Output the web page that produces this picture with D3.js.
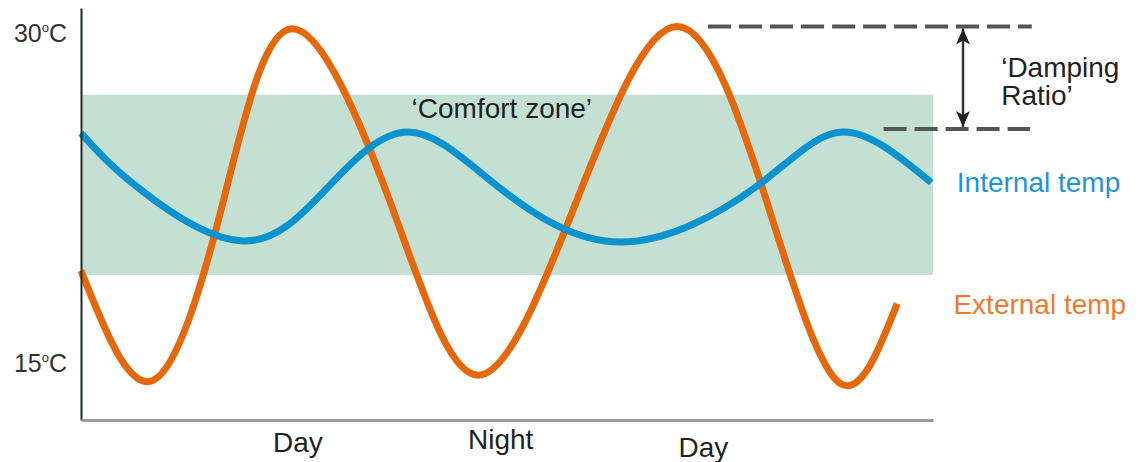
<!DOCTYPE html>
<html>
<head>
<meta charset="utf-8">
<script src="https://cdn.jsdelivr.net/npm/d3@7"></script>
<style>
    body { margin: 0; background: #fff; }
    svg { display: block; font-family: "Liberation Sans", Arial, Helvetica, sans-serif; }
</style>
</head>
<body>
<div id="body"></div>
<script>
// hours along the x axis, temperatures in °C
const extHours = [0, 4.2, 8.3, 12.4, 18.2, 23.3, 29.0, 35.0, 40.3, 44.5, 47.9];
const extTemps = [19.2, 14.2, 22.2, 30.2, 22.2, 14.45, 22.2, 30.3, 22.2, 14.1, 17.7];
const intHours = [0, 3.3, 9.5, 14.5, 19.2, 24.5, 31.7, 39.6, 44.7, 49.9];
const intTemps = [25.45, 23.0, 20.55, 23.0, 25.5, 23.0, 20.5, 23.0, 25.5, 23.2];
const comfortZone = [19.0, 27.2];
const yTicks = [15, 30];
const xTickHours = [12.7, 24.6, 36.5];
const xTickLabels = ['Day', 'Night', 'Day'];

class DampingChart {
    constructor() {
        this._width = 1141;
        this._height = 462;
        this._margins = {left: 81, right: 208, top: 8, bottom: 42};
        this._x = d3.scaleLinear().domain([0, 50]).range([this._margins.left, this._width - this._margins.right]);
        this._y = d3.scaleLinear().domain([12.41, 31.14]).range([this._height - this._margins.bottom, this._margins.top]);
        this._orange = '#e6680c';
        this._blue = '#0b93cf';
        this._svg = null;
    }
    render() {
        this._svg = d3.select('#body')
            .append('svg')
            .attr('width', this._width)
            .attr('height', this._height);
        this.renderZone();
        this.renderLine(extHours, extTemps, this._orange);
        this.renderLine(intHours, intTemps, this._blue);
        this.renderAxes();
        this.renderDamping();
        this.renderLabels();
    }
    renderZone() {
        this._svg.append('rect')
            .attr('x', this._x(0))
            .attr('y', this._y(comfortZone[1]))
            .attr('width', this._x(50) - this._x(0))
            .attr('height', this._y(comfortZone[0]) - this._y(comfortZone[1]))
            .attr('fill', '#c4e0d3');
    }
    renderLine(hours, temps, color) {
        let line = d3.line()
            .x(i => this._x(hours[i]))
            .y(i => this._y(temps[i]))
            .curve(d3.curveNatural);
        this._svg.append('path')
            .attr('d', line(d3.range(hours.length)))
            .attr('fill', 'none')
            .attr('stroke', color)
            .attr('stroke-width', 7);
    }
    renderAxes() {
        let yAxis = d3.axisLeft(this._y).tickValues(yTicks).tickSize(0).tickSizeOuter(0).tickPadding(14);
        let yG = this._svg.append('g')
            .attr('transform', `translate(${this._x(0)},0)`)
            .call(yAxis);
        yG.select('.domain').attr('stroke', '#1d2a24').attr('stroke-width', 2);
        yG.selectAll('text').each(function(d) {
            let t = d3.select(this).text(null)
                .attr('font-size', 25)
                .attr('fill', '#333')
                .attr('font-family', null);
            t.append('tspan').text(d);
            t.append('tspan').text('o').attr('font-size', 13).attr('dy', '-0.75em');
            t.append('tspan').text('C').attr('dy', '0.4em');
        });

        let nudge = [0, -3, 5];
        let xAxis = d3.axisBottom(this._x).tickValues(xTickHours).tickSize(0).tickSizeOuter(0).tickPadding(12)
            .tickFormat((d, i) => xTickLabels[i]);
        let xG = this._svg.append('g')
            .attr('transform', `translate(0,${this._y.range()[0]})`)
            .call(xAxis);
        xG.select('.domain').attr('stroke', '#9b9b9b').attr('stroke-width', 3);
        xG.selectAll('text')
            .attr('font-size', 28)
            .attr('fill', '#222')
            .attr('font-family', null)
            .attr('y', (d, i) => 12 + nudge[i]);
    }
    renderDamping() {
        let topY = this._y(d3.max(extTemps));
        let botY = this._y(d3.max(intTemps)) - 3;
        let dash = g => g.attr('stroke', '#555').attr('stroke-width', 4).attr('stroke-dasharray', '23,8');
        this._svg.append('line')
            .attr('x1', this._x(36.8)).attr('x2', this._x(55.8))
            .attr('y1', topY).attr('y2', topY)
            .call(dash);
        this._svg.append('line')
            .attr('x1', this._x(47.1)).attr('x2', this._x(55.7))
            .attr('y1', botY).attr('y2', botY)
            .call(dash);

        let ax = this._x(51.76);
        this._svg.append('line')
            .attr('x1', ax).attr('x2', ax)
            .attr('y1', topY + 2).attr('y2', botY - 2)
            .attr('stroke', '#333')
            .attr('stroke-width', 2.5);
        this._svg.append('path')
            .attr('d', `M${ax},${topY + 2} l-7,16 l7,-4 l7,4 Z M${ax},${botY - 2} l-7,-16 l7,4 l7,-4 Z`)
            .attr('fill', '#222');
    }
    renderLabels() {
        let text = (h, t, str, color) => this._svg.append('text')
            .attr('x', this._x(h))
            .attr('y', this._y(t))
            .attr('font-size', 28)
            .attr('fill', color)
            .text(str);
        text(19.4, 26.14, '\u2018Comfort zone\u2019', '#222');
        text(54.0, 28.0, '\u2018Damping', '#222');
        text(54.0, 26.73, 'Ratio\u2019', '#222');
        text(51.4, 22.77, 'Internal temp', '#1e96d2');
        text(51.2, 17.25, 'External temp', '#ee7a2e');
    }
}

new DampingChart().render();
</script>
</body>
</html>
